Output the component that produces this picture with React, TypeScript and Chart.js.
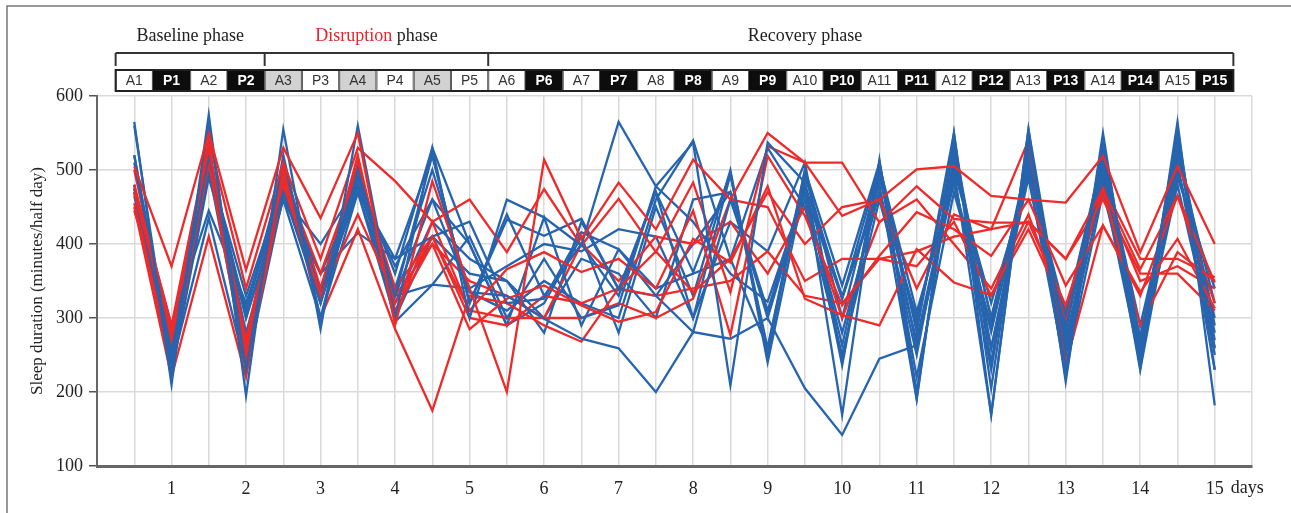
import React, { useEffect, useRef } from "react";
import { Chart, registerables } from "chart.js";

Chart.register(...registerables);

const slotLabels = [
  "A1", "P1", "A2", "P2", "A3", "P3", "A4", "P4", "A5", "P5",
  "A6", "P6", "A7", "P7", "A8", "P8", "A9", "P9", "A10", "P10",
  "A11", "P11", "A12", "P12", "A13", "P13", "A14", "P14", "A15", "P15",
];
// w = white box, b = black box, g = gray box
const slotStyles = [
  "w", "b", "w", "b", "g", "w", "g", "w", "g", "w",
  "w", "b", "w", "b", "w", "b", "w", "b", "w", "b",
  "w", "b", "w", "b", "w", "b", "w", "b", "w", "b",
];
const dayLabels = ["1", "2", "3", "4", "5", "6", "7", "8", "9", "10", "11", "12", "13", "14", "15"];
const phaseNames = ["Baseline", "Disruption", "Recovery"];
const phaseStart = [1, 5, 11];
const phaseEnd = [4, 10, 30];
const phaseLabelAt = [2.5, 7.5, 19];
const yTicks = [100, 200, 300, 400, 500, 600];

const redSeries: number[][] = [
  [505, 370, 550, 365, 530, 435, 550, 290, 485, 340, 200, 514, 407, 483, 420, 514, 460, 550, 510, 438, 460, 501, 505, 465, 460, 456, 519, 389, 505, 400],
  [480, 290, 540, 340, 510, 380, 530, 485, 430, 460, 389, 474, 398, 461, 389, 483, 335, 532, 510, 510, 429, 478, 434, 429, 429, 380, 474, 366, 465, 348],
  [470, 280, 530, 260, 490, 360, 500, 340, 410, 310, 366, 389, 362, 380, 340, 445, 277, 519, 438, 317, 384, 443, 420, 384, 460, 344, 425, 335, 407, 313],
  [455, 240, 510, 230, 480, 330, 440, 330, 400, 285, 326, 344, 317, 295, 308, 407, 375, 478, 326, 304, 290, 393, 348, 331, 430, 317, 474, 290, 389, 350],
  [450, 220, 410, 220, 500, 300, 420, 285, 175, 330, 320, 290, 268, 340, 390, 335, 380, 470, 400, 450, 460, 340, 440, 420, 540, 237, 425, 330, 465, 320],
  [445, 285, 530, 250, 480, 330, 520, 300, 430, 310, 300, 300, 300, 320, 300, 326, 460, 450, 350, 380, 380, 390, 410, 420, 430, 380, 460, 360, 360, 310],
  [480, 230, 520, 270, 505, 340, 510, 320, 410, 300, 290, 330, 320, 340, 330, 340, 350, 390, 330, 320, 380, 370, 430, 330, 420, 310, 470, 350, 370, 340],
  [500, 270, 535, 240, 485, 330, 500, 310, 400, 350, 330, 300, 400, 350, 410, 400, 430, 360, 450, 300, 430, 460, 400, 340, 440, 300, 480, 380, 380, 355],
];

const blueSeries: number[][] = [
  [565, 210, 575, 195, 555, 285, 560, 300, 530, 300, 460, 436, 398, 565, 478, 537, 209, 537, 483, 169, 514, 191, 550, 169, 555, 214, 550, 232, 565, 182],
  [560, 230, 560, 230, 520, 300, 500, 330, 520, 320, 433, 411, 434, 339, 470, 362, 494, 259, 492, 326, 505, 281, 550, 205, 545, 230, 540, 250, 555, 230],
  [520, 245, 520, 300, 470, 320, 480, 370, 460, 335, 330, 299, 272, 259, 200, 281, 272, 300, 205, 142, 245, 263, 483, 259, 505, 281, 528, 272, 530, 259],
  [510, 250, 500, 300, 460, 360, 470, 380, 410, 430, 320, 326, 416, 393, 330, 281, 460, 308, 483, 236, 505, 308, 483, 281, 500, 304, 520, 260, 540, 290],
  [480, 240, 500, 310, 500, 330, 500, 295, 345, 410, 300, 380, 300, 317, 478, 430, 360, 322, 470, 263, 490, 290, 530, 240, 530, 270, 500, 245, 520, 320],
  [475, 290, 445, 320, 470, 360, 415, 380, 520, 320, 440, 330, 400, 330, 470, 300, 494, 250, 500, 344, 510, 200, 520, 300, 510, 250, 480, 240, 530, 270],
  [470, 235, 435, 230, 465, 400, 480, 330, 460, 400, 290, 436, 290, 393, 340, 360, 380, 530, 450, 250, 460, 270, 500, 170, 555, 260, 510, 230, 500, 300],
  [465, 250, 520, 280, 460, 300, 470, 300, 410, 360, 350, 280, 430, 339, 330, 400, 470, 300, 470, 326, 480, 190, 540, 259, 490, 230, 470, 275, 490, 340],
  [475, 260, 510, 260, 480, 340, 490, 340, 500, 335, 310, 350, 320, 300, 460, 540, 380, 260, 500, 300, 500, 220, 470, 290, 520, 220, 530, 250, 480, 260],
  [470, 225, 490, 310, 480, 330, 470, 320, 430, 380, 350, 300, 380, 360, 300, 460, 470, 310, 460, 280, 470, 250, 510, 300, 500, 290, 490, 260, 510, 230],
  [520, 240, 505, 330, 480, 320, 490, 360, 530, 400, 290, 320, 410, 280, 450, 330, 500, 240, 480, 330, 470, 300, 500, 320, 490, 250, 515, 290, 505, 280],
  [475, 270, 500, 240, 500, 330, 480, 330, 345, 340, 370, 400, 390, 420, 410, 300, 430, 390, 510, 240, 510, 260, 490, 230, 530, 260, 500, 270, 540, 250],
];

const RED = "#ee2a2a";
const BLUE = "#2764ae";
const SERIF = "'Liberation Serif', 'DejaVu Serif', serif";
const SANS = "'Liberation Sans', Arial, sans-serif";

const headerPlugin = {
  id: "header",
  beforeDraw(chart: any) {
    const ctx = chart.ctx;
    ctx.save();
    ctx.fillStyle = "#ffffff";
    ctx.fillRect(0, 0, chart.width, chart.height);
    ctx.strokeStyle = "#777";
    ctx.lineWidth = 1.5;
    ctx.strokeRect(7, 6, chart.width + 20, chart.height + 20);
    ctx.restore();
  },
  afterDraw(chart: any) {
    const ctx = chart.ctx;
    const x = chart.scales.x;
    const px = (v: number) => x.getPixelForValue(v);
    ctx.save();

    // boxes row
    const top = 70;
    const h = 21;
    slotLabels.forEach((lab, i) => {
      const l = px(i + 0.5);
      const r = px(i + 1.5);
      const st = slotStyles[i];
      ctx.fillStyle = st === "b" ? "#0d0d0d" : st === "g" ? "#d2d2d2" : "#ffffff";
      ctx.fillRect(l, top, r - l, h);
      ctx.strokeStyle = st === "b" ? "#0d0d0d" : "#555";
      ctx.lineWidth = 1;
      ctx.strokeRect(l + 0.5, top + 0.5, r - l - 1, h - 1);
      ctx.fillStyle = st === "b" ? "#ffffff" : "#333";
      ctx.font = (st === "b" ? "bold " : "") + "14px " + SANS;
      ctx.textAlign = "center";
      ctx.textBaseline = "middle";
      ctx.fillText(lab, (l + r) / 2, top + h / 2 + 1);
    });
    ctx.strokeStyle = "#222";
    ctx.lineWidth = 2;
    ctx.strokeRect(px(0.5), top, px(30.5) - px(0.5), h);

    // brackets
    const by = 53;
    ctx.strokeStyle = "#333";
    ctx.lineWidth = 2;
    ctx.beginPath();
    ctx.moveTo(px(0.5), by);
    ctx.lineTo(px(30.5), by);
    ctx.stroke();
    const edges = [phaseStart[0], ...phaseEnd];
    edges.forEach((e, k) => {
      const xv = k === 0 ? px(e - 0.5) : px(e + 0.5);
      ctx.beginPath();
      ctx.moveTo(xv, by);
      ctx.lineTo(xv, 66);
      ctx.stroke();
    });

    // phase names
    ctx.font = "18px " + SERIF;
    ctx.textBaseline = "alphabetic";
    ctx.textAlign = "left";
    phaseNames.forEach((name, k) => {
      const cx = px(phaseLabelAt[k]);
      const w1 = ctx.measureText(name).width;
      const w2 = ctx.measureText(" phase").width;
      const sx = cx - (w1 + w2) / 2;
      ctx.fillStyle = k === 1 ? "#e3262d" : "#222";
      ctx.fillText(name, sx, 41);
      ctx.fillStyle = "#222";
      ctx.fillText(" phase", sx + w1, 41);
    });

    // "days" suffix
    ctx.font = "18px " + SERIF;
    ctx.fillStyle = "#222";
    ctx.textAlign = "left";
    ctx.textBaseline = "middle";
    ctx.fillText("days", px(30) + 16, 488);
    ctx.restore();
  },
};

export default function App() {
  const ref = useRef<HTMLCanvasElement | null>(null);
  useEffect(() => {
    if (!ref.current) return;
    const mk = (vals: number[], color: string) => ({
      data: vals.map((v, i) => ({ x: i + 1, y: v })),
      borderColor: color,
      backgroundColor: color,
      borderWidth: 2.3,
      pointRadius: 0,
      tension: 0,
      fill: false,
    });
    const datasets: any[] = [];
    const n = Math.max(redSeries.length, blueSeries.length);
    for (let i = 0; i < n; i++) {
      if (redSeries[i]) datasets.push(mk(redSeries[i], RED));
      if (blueSeries[i]) datasets.push(mk(blueSeries[i], BLUE));
    }
    const chart = new Chart(ref.current, {
      type: "line",
      data: { datasets },
      plugins: [headerPlugin],
      options: {
        animation: false,
        responsive: true,
        maintainAspectRatio: false,
        layout: { padding: { left: 0, top: 96, right: 39, bottom: 0 } },
        plugins: { legend: { display: false }, tooltip: { enabled: false } },
        scales: {
          x: {
            type: "linear",
            min: 0,
            max: 31,
            afterFit: (s: any) => { s.height = 47; },
            afterBuildTicks: (s: any) => {
              const t = [];
              for (let i = 0; i <= 31; i++) t.push({ value: i });
              s.ticks = t;
            },
            ticks: {
              autoSkip: false,
              maxRotation: 0,
              padding: 12,
              color: "#222",
              font: { family: SERIF, size: 18 },
              callback: (v: any) => {
                const n = Number(v);
                if (n >= 2 && n <= 30 && n % 2 === 0) return dayLabels[n / 2 - 1];
                return "";
              },
            },
            grid: { color: "#dadada", lineWidth: 1.5, drawTicks: false },
            border: { color: "#666", width: 3 },
          },
          y: {
            min: 100,
            max: 600,
            afterFit: (s: any) => { s.width = 97; },
            afterBuildTicks: (s: any) => {
              s.ticks = yTicks.map((v) => ({ value: v }));
            },
            ticks: {
              padding: 6,
              color: "#222",
              font: { family: SERIF, size: 18 },
            },
            grid: { color: "#dadada", lineWidth: 1.5, tickColor: "#555", tickLength: 8, tickWidth: 1.5 },
            border: { color: "#666", width: 2 },
            title: {
              display: true,
              text: "Sleep duration (minutes/half day)",
              color: "#222",
              font: { family: SERIF, size: 17 },
              padding: { top: 27, bottom: 0 },
            },
          },
        },
      } as any,
    });
    return () => chart.destroy();
  }, []);
  return (
    <div style={{ position: "fixed", left: 0, top: 0, width: 1291, height: 513 }}>
      <canvas ref={ref} />
    </div>
  );
}
